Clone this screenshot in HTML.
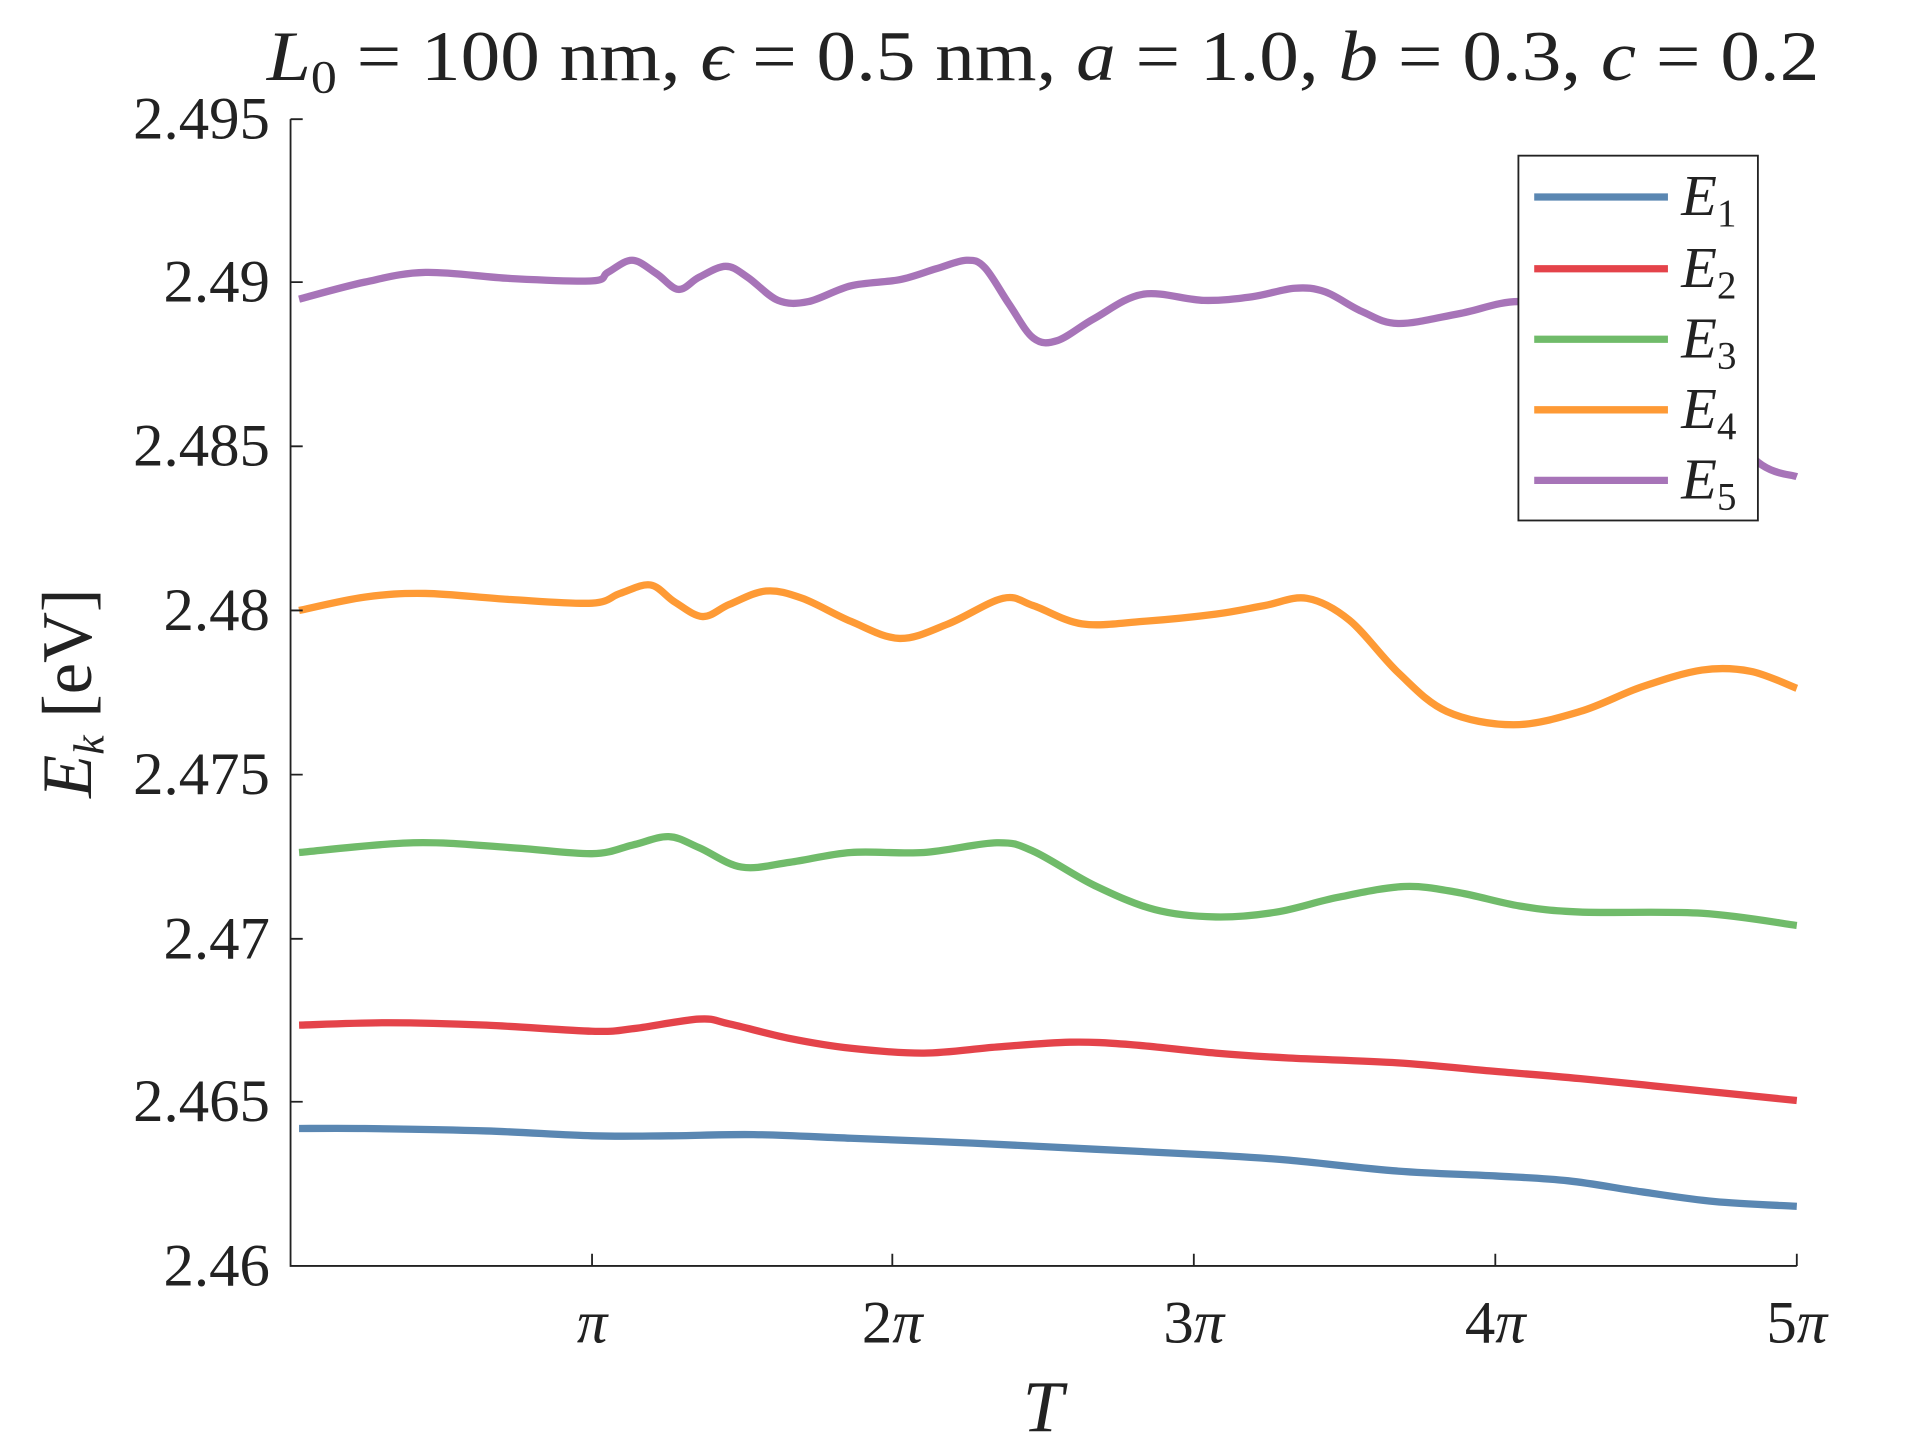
<!DOCTYPE html>
<html><head><style>html,body{margin:0;padding:0;background:#fff;}svg{display:block}</style></head>
<body>
<svg id="s" width="1905" height="1452" viewBox="0 0 1567 1194" preserveAspectRatio="none" xmlns="http://www.w3.org/2000/svg" font-family="Liberation Serif, DejaVu Serif, serif" fill="#222">
<rect width="1567" height="1194" fill="#fff"/>
<g fill="none" stroke-width="6" stroke-linejoin="round" stroke-linecap="butt" id="series">
<polyline stroke="#5a87b2" points="246,928 300,928 400,930 487,934 550,934 620,933 700,936 800,940 900,945 1000,950 1060,954 1150,963 1230,967 1290,971 1350,980 1410,988 1478,992"/>
<polyline stroke="#e4434a" points="246,843 320,841 400,843 487,848 520,846 575,838 600,842 650,854 700,862 760,866 820,861 880,857 930,859 1000,866 1060,870 1150,874 1230,881 1300,887 1400,897 1478,905"/>
<polyline stroke="#70bb6a" points="246,701 340,693 420,697 487,702 520,695 550,688 575,697 610,713 650,709 700,701 760,701 820,693 850,700 900,728 950,748 1000,754 1050,750 1100,738 1155,729 1200,734 1250,745 1300,750 1400,751 1478,761"/>
<polyline stroke="#fe9a35" points="246,502 300,491 350,488 420,493 487,496 510,488 535,481 555,495 578,507 600,497 630,486 660,492 700,511 740,525 780,513 825,492 850,498 890,513 940,511 1000,505 1040,498 1075,492 1110,510 1150,553 1190,585 1245,596 1300,585 1350,565 1400,551 1440,552 1478,566"/>
<polyline stroke="#a774b8" points="246,246 300,232 350,224 420,229 487,231 500,224 520,214 540,225 558,238 575,228 597,219 615,228 640,247 665,248 700,235 740,230 770,221 795,214 810,220 830,250 850,278 870,280 900,262 940,242 990,247 1030,244 1065,237 1090,240 1120,256 1150,266 1200,258 1250,248 1300,260 1400,330 1446,380 1478,392"/>
</g>
<g stroke="#222" stroke-width="1.5" fill="none">
<polyline points="239,98 239,1041 1478,1041"/>
<path d="M239,98h10M239,232h10M239,367h10M239,502h10M239,637h10M239,772h10M239,906h10M487,1041v-10M734,1041v-10M982,1041v-10M1230,1041v-10M1478,1041v-10"/>
</g>
<g font-size="50" text-anchor="end">
<text x="222" y="114">2.495</text><text x="222" y="248">2.49</text><text x="222" y="383">2.485</text><text x="222" y="518">2.48</text><text x="222" y="653">2.475</text><text x="222" y="788">2.47</text><text x="222" y="922">2.465</text><text x="222" y="1057">2.46</text>
</g>
<g font-size="50" text-anchor="middle" font-style="italic">
<text x="487" y="1104">π</text><text x="734" y="1104"><tspan font-style="normal">2</tspan>π</text><text x="982" y="1104"><tspan font-style="normal">3</tspan>π</text><text x="1230" y="1104"><tspan font-style="normal">4</tspan>π</text><text x="1478" y="1104"><tspan font-style="normal">5</tspan>π</text>
<text x="858" y="1177" font-size="60">T</text>
</g>
<text transform="translate(75,570) rotate(-90)" font-size="58" text-anchor="middle"><tspan font-style="italic">E</tspan><tspan font-style="italic" font-size="36" dy="10">k</tspan><tspan dy="-10"> [eV]</tspan></text>
<text x="858" y="66" font-size="58" text-anchor="middle" textLength="1277" lengthAdjust="spacingAndGlyphs"><tspan font-style="italic">L</tspan><tspan font-size="38" dy="10">0</tspan><tspan dy="-10"> = 100 nm, </tspan><tspan font-style="italic">ϵ</tspan> = 0.5 nm, <tspan font-style="italic">a</tspan> = 1.0, <tspan font-style="italic">b</tspan> = 0.3, <tspan font-style="italic">c</tspan> = 0.2</text>
<rect x="1249" y="128" width="197" height="300" fill="#fff" stroke="#222" stroke-width="1.5"/>
<g stroke-width="6">
<line x1="1262" x2="1372" y1="162" y2="162" stroke="#5a87b2"/>
<line x1="1262" x2="1372" y1="221" y2="221" stroke="#e4434a"/>
<line x1="1262" x2="1372" y1="279" y2="279" stroke="#70bb6a"/>
<line x1="1262" x2="1372" y1="337" y2="337" stroke="#fe9a35"/>
<line x1="1262" x2="1372" y1="395" y2="395" stroke="#a774b8"/>
</g>
<g font-size="48">
<text x="1383" y="177"><tspan font-style="italic">E</tspan><tspan font-size="32" dy="9">1</tspan></text>
<text x="1383" y="236"><tspan font-style="italic">E</tspan><tspan font-size="32" dy="9">2</tspan></text>
<text x="1383" y="294"><tspan font-style="italic">E</tspan><tspan font-size="32" dy="9">3</tspan></text>
<text x="1383" y="352"><tspan font-style="italic">E</tspan><tspan font-size="32" dy="9">4</tspan></text>
<text x="1383" y="410"><tspan font-style="italic">E</tspan><tspan font-size="32" dy="9">5</tspan></text>
</g>
</svg>
<script>
document.querySelectorAll('#series polyline').forEach(function(pl){
  var p=pl.getAttribute('points').trim().split(/\s+/).map(function(s){return s.split(',').map(Number);});
  var d='M'+p[0][0]+','+p[0][1];
  for(var i=0;i<p.length-1;i++){
    var p0=p[i-1]||p[i],p1=p[i],p2=p[i+1],p3=p[i+2]||p2;
    var c1x=p1[0]+(p2[0]-p0[0])/6,c1y=p1[1]+(p2[1]-p0[1])/6;
    var c2x=p2[0]-(p3[0]-p1[0])/6,c2y=p2[1]-(p3[1]-p1[1])/6;
    d+=' C'+c1x+','+c1y+' '+c2x+','+c2y+' '+p2[0]+','+p2[1];
  }
  var path=document.createElementNS('http://www.w3.org/2000/svg','path');
  path.setAttribute('d',d);path.setAttribute('stroke',pl.getAttribute('stroke'));
  pl.parentNode.replaceChild(path,pl);
});
</script>
</body></html>
